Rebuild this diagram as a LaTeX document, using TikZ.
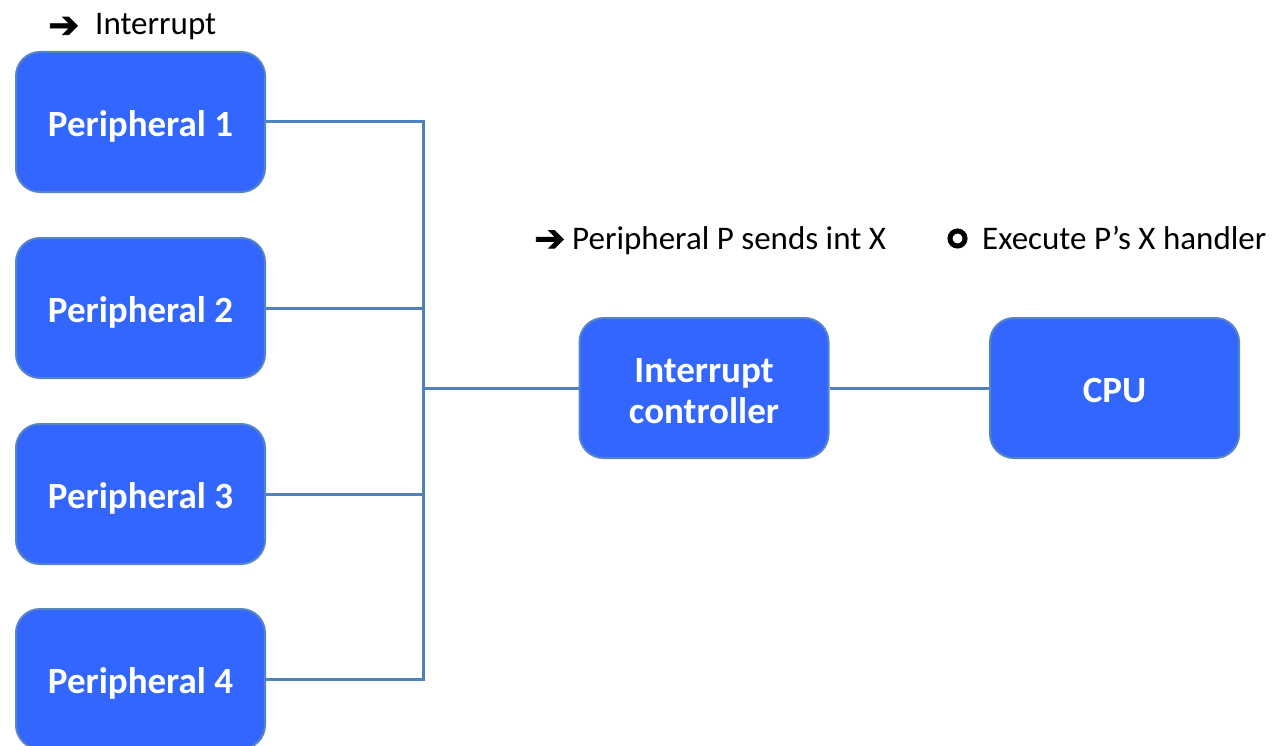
\documentclass[tikz,border=0pt]{standalone}
\usepackage{fontspec}
\setmainfont{Carlito}
\newfontfamily\symfont[FakeBold=2]{DejaVu Sans}
\definecolor{boxfill}{HTML}{3366FF}
\definecolor{boxedge}{HTML}{5585C5}
\definecolor{wirecol}{HTML}{4F81BD}
\begin{document}
\begin{tikzpicture}[x=1pt,y=-1pt,
  unit/.style={draw=boxedge, line width=2pt, fill=boxfill, rounded corners=24pt,
    minimum width=249pt, minimum height=140pt, inner sep=0pt,
    text=white, font=\fontsize{37}{41}\selectfont\bfseries},
  oneline/.style={text height=37pt, text depth=7.4pt},
  wire/.style={draw=wirecol, line width=3pt},
  note/.style={anchor=base west, inner sep=0pt, font=\fontsize{33}{38}\selectfont},
  arrowmark/.style={anchor=base west, inner sep=0pt, font=\fontsize{37}{40}\selectfont\symfont}]
\useasboundingbox (0,0) rectangle (1273,746);

% peripherals, controller and CPU
\node[unit, oneline] (p1) at (140.5,122) {Peripheral 1};
\node[unit, oneline] (p2) at (140.5,308) {Peripheral 2};
\node[unit, oneline] (p3) at (140.5,494) {Peripheral 3};
\node[unit, oneline] (p4) at (140.5,679) {Peripheral 4};
\node[unit, align=center] (ic) at (704,388) {\rule{0pt}{30pt}Interrupt\\controller};
\node[unit, oneline] (cpu) at (1114.5,388) {CPU};

% shared interrupt bus
\coordinate (bt) at (423,122);
\coordinate (bb) at (423,679);
\draw[wire] (p1.east) -- (bt) -- (bb) -- (p4.east);
\draw[wire] (p2.east) -- (p2.east -| bt);
\draw[wire] (p3.east) -- (p3.east -| bt);
\draw[wire] (ic.west -| bt) -- (ic.west);
\draw[wire] (ic.east) -- (cpu.west);

% legend
\node[arrowmark] (a1) at (48,37.5) {➔};
\node[note] (t1) at (95,35) {Interrupt};
\node[arrowmark] (a2) at (534,251) {➔};
\node[note] (t2) at (572,249.5) {Peripheral P sends int X};
\node[draw=black, line width=5pt, circle, minimum size=15pt, inner sep=0pt] (c3) at (957.5,238.5) {};
\node[note] (t3) at (982,249.5) {Execute P’s X handler};
\end{tikzpicture}
\end{document}
